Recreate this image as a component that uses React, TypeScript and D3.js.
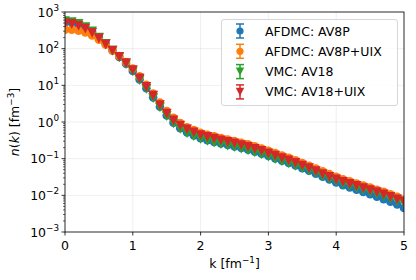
import React from "react";
import * as d3 from "d3";

const K: number[] = [
  0.0, 0.1, 0.2, 0.3, 0.4, 0.5, 0.6, 0.7, 0.8, 0.9,
  1.0, 1.1, 1.2, 1.3, 1.4, 1.5, 1.6, 1.7, 1.8, 1.9,
  2.0, 2.1, 2.2, 2.3, 2.4, 2.5, 2.6, 2.7, 2.8, 2.9,
  3.0, 3.1, 3.2, 3.3, 3.4, 3.5, 3.6, 3.7, 3.8, 3.9,
  4.0, 4.1, 4.2, 4.3, 4.4, 4.5, 4.6, 4.7, 4.8, 4.9, 5.0,
];

const AFDMC_AV8P: number[] = [
  530, 510, 455, 375, 290, 200, 136, 90, 59, 39,
  24.5, 14.5, 8.3, 4.7, 2.6, 1.5, 0.95, 0.68, 0.52, 0.43,
  0.36, 0.318, 0.287, 0.26, 0.236, 0.215, 0.195, 0.175, 0.155, 0.137,
  0.118, 0.102, 0.088, 0.076, 0.065, 0.055, 0.047, 0.039, 0.032, 0.027,
  0.0225, 0.019, 0.0165, 0.0143, 0.0124, 0.0107, 0.0092, 0.0079, 0.0067, 0.0056, 0.0045,
];

const AFDMC_AV8P_UIX: number[] = [
  330, 330, 310, 275, 230, 175, 128, 90, 63, 43,
  28.5, 17.5, 10.3, 6, 3.4, 2.0, 1.3, 0.93, 0.72, 0.6,
  0.51, 0.45, 0.405, 0.365, 0.33, 0.3, 0.272, 0.245, 0.217, 0.19,
  0.164, 0.142, 0.122, 0.105, 0.09, 0.076, 0.064, 0.054, 0.045, 0.038,
  0.032, 0.0275, 0.024, 0.021, 0.0185, 0.0162, 0.0142, 0.0124, 0.0107, 0.0091, 0.0077,
];

const VMC_AV18: number[] = [
  560, 530, 470, 385, 295, 200, 135, 88, 58, 38,
  24, 14, 8, 4.5, 2.5, 1.45, 0.92, 0.65, 0.5, 0.41,
  0.345, 0.305, 0.275, 0.25, 0.226, 0.206, 0.187, 0.168, 0.149, 0.131,
  0.113, 0.098, 0.085, 0.074, 0.064, 0.055, 0.047, 0.04, 0.033, 0.028,
  0.024, 0.0206, 0.0182, 0.016, 0.014, 0.0124, 0.0108, 0.0094, 0.0081, 0.007, 0.006,
];

const VMC_AV18_UIX: number[] = [
  490, 470, 420, 350, 270, 190, 130, 88, 60, 40,
  26, 15.5, 9, 5.2, 2.9, 1.7, 1.1, 0.8, 0.63, 0.52,
  0.44, 0.39, 0.35, 0.315, 0.285, 0.26, 0.235, 0.21, 0.186, 0.163,
  0.14, 0.121, 0.104, 0.09, 0.077, 0.065, 0.055, 0.046, 0.038, 0.032,
  0.027, 0.0233, 0.0205, 0.018, 0.0158, 0.0139, 0.0122, 0.0106, 0.0091, 0.0078, 0.0067,
];

const SERIES_NAMES: string[] = ["AFDMC: AV8P", "AFDMC: AV8P+UIX", "VMC: AV18", "VMC: AV18+UIX"];
const SERIES_COLORS: string[] = ["#1f77b4", "#ff7f0e", "#2ca02c", "#d62728"];
const SERIES_MARKERS: string[] = ["circle", "circle", "tri", "tri"];
const SERIES_DATA: number[][] = [AFDMC_AV8P, AFDMC_AV8P_UIX, VMC_AV18, VMC_AV18_UIX];

const X_TICKS: number[] = [0, 1, 2, 3, 4, 5];
const Y_EXPONENTS: number[] = [-3, -2, -1, 0, 1, 2, 3];

const W = 416;
const H = 280;
const L = 65;
const R = 404;
const T = 12;
const B = 232;
const FONT = "DejaVu Sans, sans-serif";

function Marker({ type, cx, cy, color, big }: { type: string; cx: number; cy: number; color: string; big?: boolean }) {
  if (type === "circle") {
    return <circle cx={cx} cy={cy} r={big ? 4.3 : 3.6} fill={color} />;
  }
  const s = big ? 4.9 : 4.2;
  return (
    <path
      d={`M${cx - s},${cy - s}L${cx + s},${cy - s}L${cx},${cy + s}Z`}
      fill={color}
    />
  );
}

export default function App() {
  const x = d3.scaleLinear().domain([0, 5]).range([L, R]);
  const y = d3.scaleLog().domain([1e-3, 1e3]).range([B, T]);

  const minorTicks: number[] = [];
  for (let e = -3; e < 3; e++) {
    for (let m = 2; m <= 9; m++) minorTicks.push(m * Math.pow(10, e));
  }

  const legX = 221.5;
  const legY = 19.5;
  const legW = 176;
  const legH = 86;
  const rowY = [31, 51.3, 71.6, 91.9];

  return (
    <svg width={W} height={H} style={{ display: "block", position: "absolute", left: 0, top: 0 }} fontFamily={FONT}>
      <rect x={0} y={0} width={W} height={H} fill="white" />
      <defs>
        <clipPath id="plotclip">
          <rect x={L} y={T} width={R - L} height={B - T} />
        </clipPath>
      </defs>
      {/* grid */}
      <g stroke="#b0b0b0" strokeOpacity={0.25} strokeWidth={0.8}>
        {X_TICKS.map((t) => (
          <line key={"gx" + t} x1={x(t)} x2={x(t)} y1={T} y2={B} />
        ))}
        {Y_EXPONENTS.map((e) => (
          <line key={"gy" + e} x1={L} x2={R} y1={y(Math.pow(10, e))} y2={y(Math.pow(10, e))} />
        ))}
      </g>
      {/* data */}
      <g clipPath="url(#plotclip)">
        {SERIES_DATA.map((data, si) => (
          <g key={"s" + si}>
            {data.map((v, i) => (
              <Marker key={i} big type={SERIES_MARKERS[si]} cx={x(K[i])} cy={y(v)} color={SERIES_COLORS[si]} />
            ))}
          </g>
        ))}
      </g>
      {/* frame */}
      <rect x={L} y={T} width={R - L} height={B - T} fill="none" stroke="#000" strokeWidth={0.8} />
      {/* x ticks */}
      {X_TICKS.map((t) => (
        <g key={"xt" + t}>
          <line x1={x(t)} x2={x(t)} y1={B} y2={B + 3.5} stroke="#000" strokeWidth={0.8} />
          <text x={x(t)} y={250} textAnchor="middle" fontSize={12.5} fill="#000">
            {t}
          </text>
        </g>
      ))}
      {/* y ticks */}
      {Y_EXPONENTS.map((e) => {
        const yy = y(Math.pow(10, e));
        const sup = e < 0 ? "\u2212" + Math.abs(e) : String(e);
        return (
          <g key={"yt" + e}>
            <line x1={L - 3.5} x2={L} y1={yy} y2={yy} stroke="#000" strokeWidth={0.8} />
            <text x={L - 6} y={yy + 4.5} textAnchor="end" fontSize={12.5} fill="#000">
              10
              <tspan fontSize={8.8} dy={-5.5}>{sup}</tspan>
            </text>
          </g>
        );
      })}
      {minorTicks.map((m, i) => (
        <line key={"mt" + i} x1={L - 2} x2={L} y1={y(m)} y2={y(m)} stroke="#000" strokeWidth={0.6} />
      ))}
      {/* axis labels */}
      <text x={234.5} y={268} textAnchor="middle" fontSize={12.5} fill="#000">
        k [fm
        <tspan fontSize={8.8} dy={-5}>{"\u22121"}</tspan>
        <tspan dy={5}>]</tspan>
      </text>
      <text transform={`translate(19,122) rotate(-90)`} textAnchor="middle" fontSize={12.5} fill="#000">
        <tspan fontStyle="italic">n</tspan>(<tspan fontStyle="italic">k</tspan>) [fm
        <tspan fontSize={8.8} dy={-5}>{"\u22123"}</tspan>
        <tspan dy={5}>]</tspan>
      </text>
      {/* legend */}
      <rect x={legX} y={legY} width={legW} height={legH} rx={2.5} fill="white" fillOpacity={0.8} stroke="#cccccc" strokeWidth={0.8} />
      {SERIES_NAMES.map((name, i) => {
        const cy = rowY[i];
        const mx = 240;
        return (
          <g key={"lg" + i}>
            <line x1={mx} x2={mx} y1={cy - 7} y2={cy + 7} stroke={SERIES_COLORS[i]} strokeWidth={1.5} />
            <line x1={mx - 4} x2={mx + 4} y1={cy - 7} y2={cy - 7} stroke={SERIES_COLORS[i]} strokeWidth={1.5} />
            <line x1={mx - 4} x2={mx + 4} y1={cy + 7} y2={cy + 7} stroke={SERIES_COLORS[i]} strokeWidth={1.5} />
            <Marker type={SERIES_MARKERS[i]} cx={mx} cy={cy} color={SERIES_COLORS[i]} />
            <text x={265} y={cy + 4.5} fontSize={12.5} fill="#000">
              {name}
            </text>
          </g>
        );
      })}
    </svg>
  );
}
